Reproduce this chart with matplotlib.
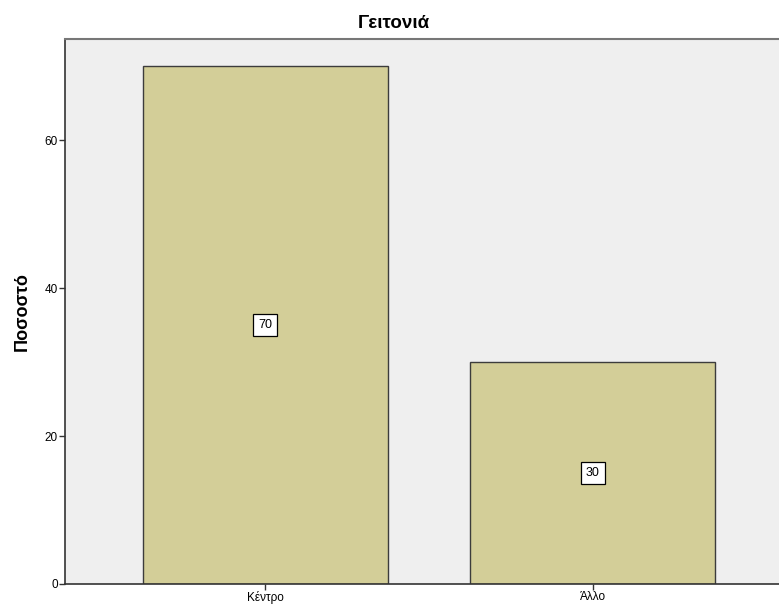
import matplotlib.pyplot as plt
import numpy as np

plt.rcParams['font.family'] = ['Liberation Sans', 'DejaVu Sans']

# data
kathgories = ["Κέντρο", "Άλλο"]
pososta = [70, 30]
y_ticks = [0, 20, 40, 60]

fig = plt.figure(figsize=(7.79, 6.09), dpi=100)
ax = fig.add_axes([65 / 779, 1 - 584 / 609, 728 / 779, (584 - 39) / 609])
ax.set_facecolor("#efefef")

x = np.arange(len(kathgories))
bars = ax.bar(x, pososta, width=0.747, color="#d3ce98", edgecolor="#3c3c3c", linewidth=1.0, zorder=2)

for xi, v in zip(x, pososta):
    ax.text(xi, v / 2, str(v), ha="center", va="center", fontsize=9, zorder=3,
            bbox=dict(boxstyle="square,pad=0.4", facecolor="white", edgecolor="black", linewidth=0.9))

ax.set_xlim(-0.61, 1.61)
ax.set_ylim(0, 73.65)
ax.set_xticks(x)
ax.set_xticklabels(kathgories, fontsize=8.5)
ax.set_yticks(y_ticks)
ax.set_yticklabels([str(t) for t in y_ticks], fontsize=8.5)
ax.tick_params(axis="both", length=4, width=1, color="#333333", pad=1)

for s in ["left", "bottom"]:
    ax.spines[s].set_color("#333333")
    ax.spines[s].set_linewidth(1.2)
ax.spines["top"].set_color("#777777")
ax.spines["top"].set_linewidth(1.5)
ax.spines["right"].set_visible(False)

ax.set_ylabel("Ποσοστό", fontsize=13, fontweight="bold", labelpad=10)
fig.text(394 / 779, 1 - 24 / 609, "Γειτονιά", ha="center", va="center", fontsize=13.5, fontweight="bold")

fig.savefig("out.png", dpi=100)
